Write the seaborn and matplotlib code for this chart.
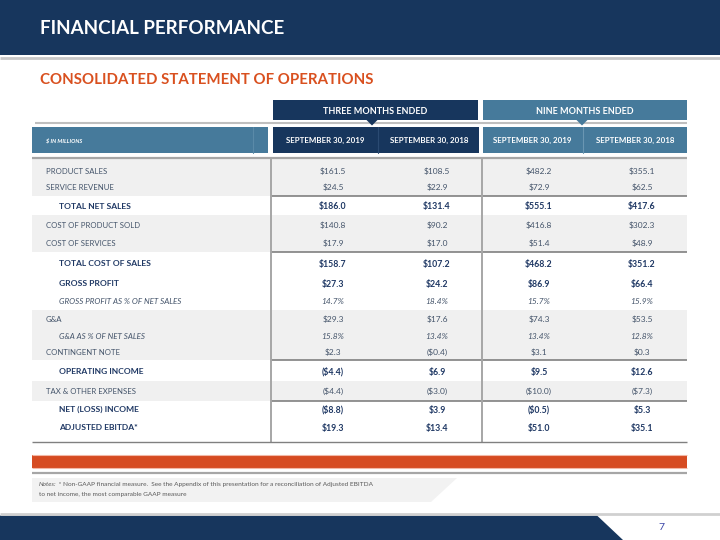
import matplotlib
matplotlib.use("Agg")
import matplotlib.pyplot as plt
from matplotlib.patches import Rectangle, Polygon
import seaborn as sns
import pandas as pd

# ---------------- data ----------------
row_labels = ["PRODUCT SALES", "SERVICE REVENUE", "TOTAL NET SALES", "COST OF PRODUCT SOLD",
              "COST OF SERVICES", "TOTAL COST OF SALES", "GROSS PROFIT",
              "GROSS PROFIT AS % OF NET SALES", "G&A", "G&A AS % OF NET SALES",
              "CONTINGENT NOTE", "OPERATING INCOME", "TAX & OTHER EXPENSES",
              "NET (LOSS) INCOME", "ADJUSTED EBITDA*"]
row_styles = ["normal", "normal", "bold", "normal", "normal", "bold", "bold", "italic",
              "normal", "italic", "normal", "bold", "normal", "bold", "bold"]
three_2019 = [161.5, 24.5, 186.0, 140.8, 17.9, 158.7, 27.3, 14.7, 29.3, 15.8, 2.3, -4.4, -4.4, -8.8, 19.3]
three_2018 = [108.5, 22.9, 131.4, 90.2, 17.0, 107.2, 24.2, 18.4, 17.6, 13.4, -0.4, 6.9, -3.0, 3.9, 13.4]
nine_2019 = [482.2, 72.9, 555.1, 416.8, 51.4, 468.2, 86.9, 15.7, 74.3, 13.4, 3.1, 9.5, -10.0, -0.5, 51.0]
nine_2018 = [355.1, 62.5, 417.6, 302.3, 48.9, 351.2, 66.4, 15.9, 53.5, 12.8, 0.3, 12.6, -7.3, 5.3, 35.1]
period_labels = ["THREE MONTHS ENDED", "NINE MONTHS ENDED"]
column_labels = ["SEPTEMBER 30, 2019", "SEPTEMBER 30, 2018", "SEPTEMBER 30, 2019", "SEPTEMBER 30, 2018"]
title = "FINANCIAL PERFORMANCE"
subtitle = "CONSOLIDATED STATEMENT OF OPERATIONS"
units_label = "$ IN MILLIONS"
notes_prefix = "Notes:"
notes_line1 = " * Non-GAAP financial measure.  See the Appendix of this presentation for a reconciliation of Adjusted EBITDA"
notes_line2 = "to net income, the most comparable GAAP measure"
page_number = "7"

df = pd.DataFrame({"label": row_labels, "style": row_styles,
                   "t19": three_2019, "t18": three_2018, "n19": nine_2019, "n18": nine_2018})

# ---------------- style ----------------
sns.set_theme(style="white")
FONT = ["Lato", "DejaVu Sans"]
plt.rcParams["font.family"] = FONT

NAVY = "#17365D"
STEEL = "#467A9B"
ORANGE = "#D64B21"
SUB_ORANGE = "#D9501F"
BAND = "#F0F0F0"
TXT = "#44546A"
TXT_B = "#1F3864"
VA = "center_baseline"

fig = plt.figure(figsize=(7.2, 5.4), dpi=100)
ax = fig.add_axes([0, 0, 1, 1])
ax.set_xlim(0, 720)
ax.set_ylim(540, 0)
ax.axis("off")

def rect(x0, y0, x1, y1, color, z=1, **kw):
    ax.add_patch(Rectangle((x0, y0), x1 - x0, y1 - y0, facecolor=color, edgecolor="none", zorder=z, **kw))

def hline(y, x0, x1, color, lw, z=3):
    ax.plot([x0, x1], [y, y], color=color, lw=lw, zorder=z, solid_capstyle="butt")

# title banner
rect(0, 0, 720, 55, NAVY)
hline(57.5, 0, 720, "#C8C8C8", 2.0)
ax.text(40, 27, title, color="white", fontsize=13.5, fontweight="bold", va=VA, ha="left")
ax.text(40, 79, subtitle, color=SUB_ORANGE, fontsize=10.8, fontweight="bold", va=VA, ha="left")

# period boxes
hline(123, 35, 687, "#BFBFBF", 1.5)
rect(273, 100, 478, 120, NAVY, z=4)
rect(483, 100, 687, 120, STEEL, z=4)
ax.add_patch(Polygon([(366, 119.5), (378, 119.5), (372, 125.5)], closed=True, facecolor=NAVY, edgecolor="none", zorder=5))
ax.add_patch(Polygon([(576, 119.5), (588, 119.5), (582, 125.5)], closed=True, facecolor=STEEL, edgecolor="none", zorder=5))
ax.text(375.5, 110, period_labels[0], color="white", fontsize=6.5, fontweight="bold", ha="center", va=VA, zorder=6)
ax.text(585, 110, period_labels[1], color="white", fontsize=6.5, fontweight="bold", ha="center", va=VA, zorder=6)

# header row
rect(32, 127, 268, 153, STEEL)
rect(273, 127, 479, 153, NAVY)
rect(483, 127, 687, 153, STEEL)
ax.plot([253, 253], [127, 153], color="#5A8AA8", lw=0.8, zorder=2)
ax.plot([378, 378], [127, 153], color="#2A4A72", lw=0.8, zorder=2)
ax.plot([583, 583], [127, 153], color="#6A96B2", lw=0.8, zorder=2)
ax.text(46, 140, units_label, color="white", fontsize=4.1, fontweight="bold", style="italic", ha="left", va=VA)
header_x = [325, 429, 532, 635]
for hx, lab in zip(header_x, column_labels):
    ax.text(hx, 140, lab, color="white", fontsize=5.7, fontweight="bold", ha="center", va=VA)
hline(158, 32, 687, "#A6A6A6", 1.6)

# gray bands
for y0, y1 in [(159, 196), (215, 252), (310, 360), (381, 401)]:
    rect(32, y0, 687, y1, BAND, z=1)

# separators in numeric area
for y in [196, 252, 360, 401]:
    hline(y, 271, 687, "#808080", 1.2)
for x in [271, 481.5]:
    ax.plot([x, x], [158, 442], color="#A6A6A6", lw=1.4, zorder=3)

# rows
row_y = [171, 187, 206, 225, 243, 263, 283, 301, 319, 336, 352, 371, 391, 409, 427]
value_x = [333, 437, 539, 642]

def fmt(v, pct):
    if pct:
        return f"{v:.1f}%"
    if v < 0:
        return f"(${abs(v):.1f})"
    return f"${v:.1f}"

for i, r in df.iterrows():
    y = row_y[i]
    st = r["style"]
    if st == "bold":
        ax.text(59, y, r["label"], color=TXT_B, fontsize=6.1, fontweight="bold", ha="left", va=VA, zorder=6)
    elif st == "italic":
        ax.text(59, y, r["label"], color=TXT, fontsize=5.8, style="italic", ha="left", va=VA, zorder=6)
    else:
        ax.text(46, y, r["label"], color=TXT, fontsize=5.6, ha="left", va=VA, zorder=6)
    pct = st == "italic"
    for vx, col in zip(value_x, ["t19", "t18", "n19", "n18"]):
        s = fmt(r[col], pct)
        if st == "bold":
            ax.text(vx, y, s, color=TXT_B, fontsize=6.3, fontweight="bold", ha="center", va=VA, zorder=6)
        elif st == "italic":
            ax.text(vx, y, s, color=TXT, fontsize=6.0, style="italic", ha="center", va=VA, zorder=6)
        else:
            ax.text(vx, y, s, color=TXT, fontsize=6.0, ha="center", va=VA, zorder=6)

# bottom of table
hline(442, 32, 687, "#808080", 1.0)
rect(32, 455, 687, 468, ORANGE)
hline(454.8, 32, 687, "#F2B8A6", 0.8)
hline(468.2, 32, 687, "#F2B8A6", 0.8)
hline(473, 32, 687, "#A6A6A6", 1.6)

# notes
ax.add_patch(Polygon([(32, 478), (457, 478), (431, 502), (32, 502)], closed=True,
                     facecolor="#F2F2F2", edgecolor="none", zorder=1))
t_pre = ax.text(39, 484, notes_prefix, color="#595959", fontsize=4.65, style="italic", ha="left", va=VA)
fig.canvas.draw()
bb = t_pre.get_window_extent(renderer=fig.canvas.get_renderer())
x_end = ax.transData.inverted().transform((bb.x1, bb.y0))[0]
ax.text(x_end, 484, notes_line1, color="#595959", fontsize=4.65, ha="left", va=VA)
ax.text(39, 494, notes_line2, color="#595959", fontsize=4.65, ha="left", va=VA)

# footer banner
hline(513.5, 0, 720, "#D0D0D0", 2.0)
ax.add_patch(Polygon([(0, 515.5), (597, 515.5), (623, 540), (0, 540)], closed=True,
                     facecolor=NAVY, edgecolor="none", zorder=2))
ax.text(661, 527, page_number, color="#3A45A8", fontsize=7.5, ha="center", va=VA)

fig.savefig("out.png", dpi=100)
